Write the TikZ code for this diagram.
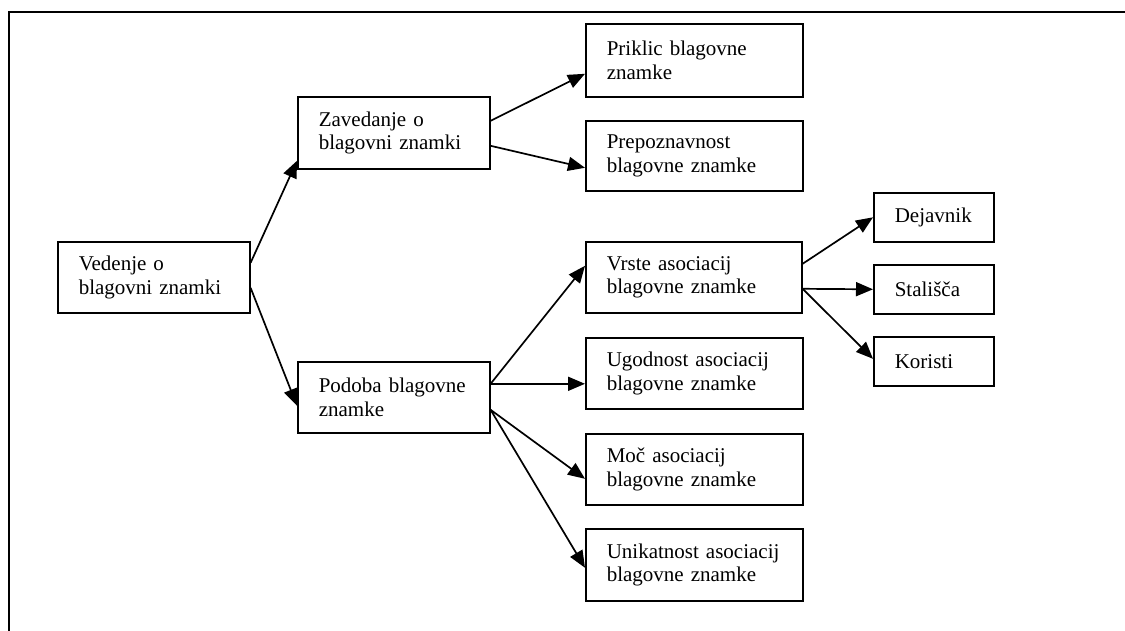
\documentclass[tikz,border=0pt]{standalone}
\usepackage{fontspec}
\setmainfont{Liberation Serif}
\usetikzlibrary{arrows.meta}
\begin{document}
\begin{tikzpicture}[x=1pt,y=-1pt,
  box/.style={draw, line width=1.6pt, anchor=north west, inner xsep=21pt, inner ysep=0pt,
    align=left, font=\fontsize{21}{23.5}\selectfont},
  conn/.style={line width=1.7pt, -{Triangle[length=17pt,width=14pt]}}]
\useasboundingbox (0,0) rectangle (1125,631);
\draw[line width=2pt] (9,631) -- (9,12) -- (1125,12);
% nodes
\node[box, text width=150pt, minimum height=71pt] (ved) at (57,241) {Vedenje o\\blagovni znamki};
\node[box, text width=150pt, minimum height=72pt] (zav) at (297,96) {Zavedanje o\\blagovni znamki};
\node[box, text width=150pt, minimum height=71pt] (pod) at (297,361) {Podoba blagovne\\znamke};
\node[box, text width=175pt, minimum height=73pt] (pri) at (585,23) {Priklic blagovne\\znamke};
\node[box, text width=175pt, minimum height=70pt] (pre) at (585,120) {Prepoznavnost\\blagovne znamke};
\node[box, text width=174pt, minimum height=71pt] (vrs) at (585,241) {Vrste asociacij\\blagovne znamke};
\node[box, text width=175pt, minimum height=71pt] (ugo) at (585,337) {Ugodnost asociacij\\blagovne znamke};
\node[box, text width=175pt, minimum height=71pt] (moc) at (585,433) {Moč asociacij\\blagovne znamke};
\node[box, text width=175pt, minimum height=72pt] (uni) at (585,528) {Unikatnost asociacij\\blagovne znamke};
\node[box, text width=78pt, minimum height=49pt] (dej) at (873,192) {Dejavnik};
\node[box, text width=78pt, minimum height=49pt] (sta) at (873,264) {Stališča};
\node[box, text width=78pt, minimum height=49pt] (kor) at (873,336) {Koristi};
% connectors
\draw[conn] ([yshift=14.5pt]ved.east) -- ([yshift=-28pt]zav.west);
\draw[conn] ([yshift=-10.5pt]ved.east) -- ([yshift=-8.5pt]pod.west);
\draw[conn] ([yshift=12pt]zav.east) -- ([yshift=-13.5pt]pri.west);
\draw[conn] ([yshift=-13pt]zav.east) -- ([yshift=-12pt]pre.west);
\draw[conn] ([yshift=13.5pt]pod.east) -- ([yshift=11.5pt]vrs.west);
\draw[conn] ([yshift=13.5pt]pod.east) -- ([yshift=-10.5pt]ugo.west);
\draw[conn] ([yshift=-12.5pt]pod.east) -- ([yshift=-9.5pt]moc.west);
\draw[conn] ([yshift=-12.5pt]pod.east) -- ([yshift=-3pt]uni.west);
\draw[conn] ([yshift=13.5pt]vrs.east) -- (dej.west);
\draw[conn] ([yshift=-11.5pt]vrs.east) -- (sta.west);
\draw[conn] ([yshift=-11.5pt]vrs.east) -- ([yshift=2.5pt]kor.west);
\end{tikzpicture}
\end{document}
